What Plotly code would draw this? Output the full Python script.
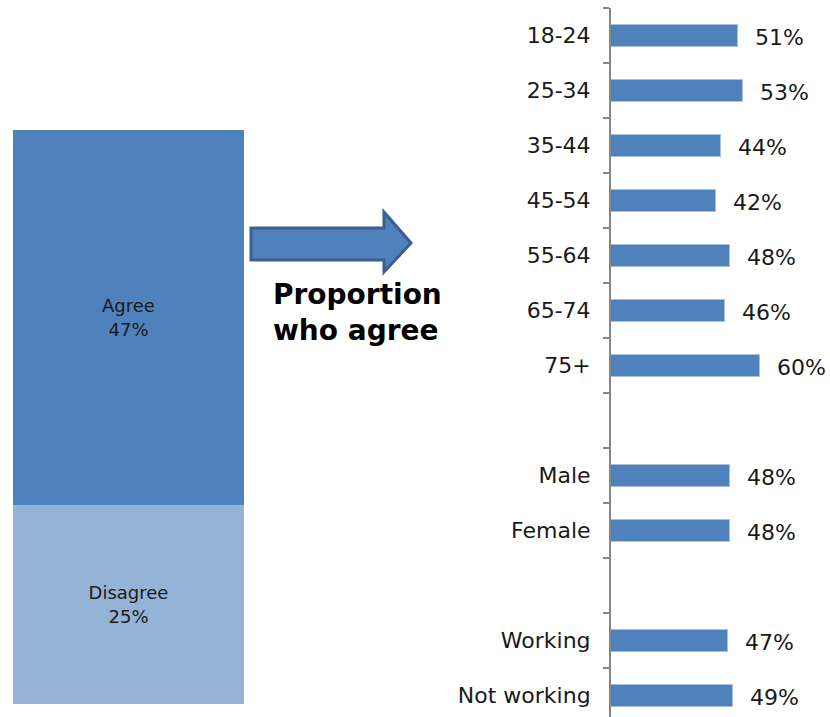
import plotly.graph_objects as go

# ---- data ----
left_labels = ["Agree", "Disagree"]
left_values = [47, 25]
left_colors = ["#4F81BD", "#95B3D7"]

categories = ["18-24", "25-34", "35-44", "45-54", "55-64", "65-74", "75+", " ",
              "Male", "Female", "  ", "Working", "Not working"]
values = [51, 53, 44, 42, 48, 46, 60, None, 48, 48, None, 47, 49]

W, H = 830, 717
FONT = "DejaVu Sans"

def px(x):
    return x / W

def py(y):
    return 1 - y / H

fig = go.Figure()

# left stacked bar (Disagree at the bottom, Agree on top)
for lab, val, col in reversed(list(zip(left_labels, left_values, left_colors))):
    fig.add_trace(go.Bar(
        x=[0], y=[val], width=1, marker=dict(color=col, line=dict(width=0)),
        text=[f"{lab}<br>{val}%"], textposition="inside", insidetextanchor="middle",
        textfont=dict(family=FONT, size=18, color="#1a1a1a"),
        xaxis="x", yaxis="y", showlegend=False, hoverinfo="skip",
    ))

# right horizontal bars
fig.add_trace(go.Bar(
    y=categories, x=values, orientation="h", width=0.4,
    marker=dict(color="#4F81BD", line=dict(color="#A9C0DE", width=1)),
    xaxis="x2", yaxis="y2", showlegend=False, hoverinfo="skip",
))

annotations = []
for c, v in zip(categories, values):
    if v is None:
        continue
    annotations.append(dict(
        x=v, y=c, xref="x2", yref="y2", text=f"{v}%", showarrow=False,
        xanchor="left", xshift=15, yshift=-2,
        font=dict(family=FONT, size=22, color="#1a1a1a"),
    ))

annotations.append(dict(
    x=px(357), y=py(312), xref="paper", yref="paper",
    text="<b>Proportion<br>who agree</b>", showarrow=False,
    xanchor="center", yanchor="middle", align="left",
    font=dict(family=FONT, size=28, color="#000000"),
))

# arrow decoration
pts = [(251, 228), (384, 228), (384, 212), (411, 243), (384, 272), (384, 260), (251, 260)]
path = "M " + " L ".join(f"{px(x):.5f},{py(y):.5f}" for x, y in pts) + " Z"
shapes = [dict(type="path", xref="paper", yref="paper", path=path,
               fillcolor="#4F81BD", line=dict(color="#3A5F8E", width=3))]

fig.update_layout(
    width=W, height=H,
    margin=dict(l=0, r=0, t=0, b=0),
    paper_bgcolor="white", plot_bgcolor="rgba(0,0,0,0)",
    barmode="stack", bargap=0,
    xaxis=dict(domain=[px(13), px(244)], range=[-0.5, 0.5], visible=False, fixedrange=True),
    yaxis=dict(domain=[(H - 704) / H, (H - 130) / H], range=[0, 72], visible=False),
    xaxis2=dict(domain=[px(611), 1], range=[0, 88], visible=False, anchor="y2"),
    yaxis2=dict(domain=[0, py(8)], type="category", categoryorder="array",
                categoryarray=categories, range=[12.5 - 6 / 55, -0.5],
                anchor="x2", tickson="boundaries", ticks="outside", ticklen=6,
                tickwidth=2, tickcolor="#868686", showline=True, linecolor="#868686",
                linewidth=2, showgrid=False, ticklabelstandoff=14,
                tickfont=dict(family=FONT, size=22, color="#1a1a1a")),
    annotations=annotations,
    shapes=shapes,
    showlegend=False,
)

fig.write_html("out.html", config={"displayModeBar": False},
               post_script="document.body.style.margin='0';document.body.style.overflow='hidden';")
